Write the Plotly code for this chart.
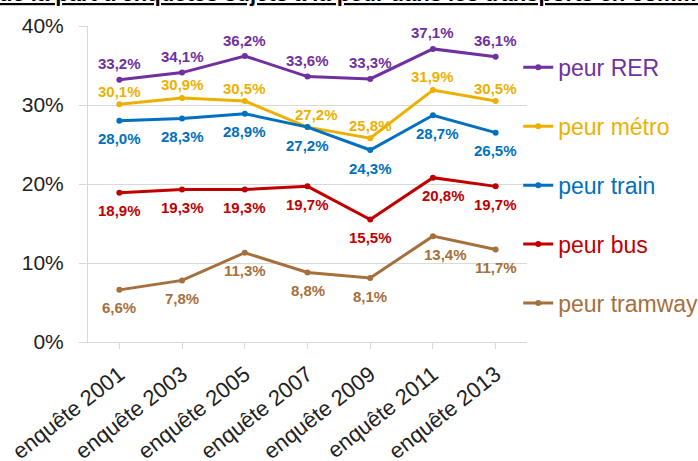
import plotly.graph_objects as go

categories = ["enquête 2001", "enquête 2003", "enquête 2005", "enquête 2007",
              "enquête 2009", "enquête 2011", "enquête 2013"]

rer = [33.2, 34.1, 36.2, 33.6, 33.3, 37.1, 36.1]
metro = [30.1, 30.9, 30.5, 27.2, 25.8, 31.9, 30.5]
train = [28.0, 28.3, 28.9, 27.2, 24.3, 28.7, 26.5]
bus = [18.9, 19.3, 19.3, 19.7, 15.5, 20.8, 19.7]
tram = [6.6, 7.8, 11.3, 8.8, 8.1, 13.4, 11.7]

# name, values, colour, label vertical shift (px)
series = [
    ("peur RER", rer, "#7030A0", 16),
    ("peur métro", metro, "#EEB000", 13),
    ("peur train", train, "#0070C0", -18),
    ("peur bus", bus, "#C00000", -18),
    ("peur tramway", tram, "#A5703C", -18),
]
# small horizontal nudges of a few data labels (series index, point index) -> px
label_nudge = {(1, 3): 9, (2, 5): 5, (3, 5): 11, (4, 5): 13}

FONT = "Arial, 'Liberation Sans', sans-serif"

fig = go.Figure()
for i, (name, vals, color, shift) in enumerate(series):
    fig.add_trace(go.Scatter(
        x=categories, y=vals,
        mode="lines+markers",
        name=f"<span style='color:{color}'>{name}</span>",
        legendgroup=str(i),
        line=dict(color=color, width=3),
        marker=dict(color=color, size=6),
        cliponaxis=False,
    ))
    for j, (c, v) in enumerate(zip(categories, vals)):
        fig.add_annotation(
            x=c, y=v, xref="x", yref="y", yshift=shift,
            xshift=label_nudge.get((i, j), 0),
            text=f"{v:.1f}%".replace(".", ","), showarrow=False,
            font=dict(family=FONT, size=15, color=color, weight="bold"),
        )

fig.add_annotation(
    text="<u>de la part d'enquêtés sujets à la peur dans les transports en commun</u>",
    xref="paper", yref="paper", x=-0.207, y=1.0575, xanchor="left", yanchor="bottom",
    showarrow=False, font=dict(family=FONT, size=22, color="#000000", weight="bold"),
)

fig.update_layout(
    width=698, height=461,
    margin=dict(l=88, r=171, t=26, b=119, autoexpand=False),
    paper_bgcolor="white", plot_bgcolor="white",
    font=dict(family=FONT, color="#222222"),
    showlegend=True,
    legend=dict(x=0.980, y=0.937, xanchor="left", yanchor="top",
                font=dict(family=FONT, size=23), tracegroupgap=26,
                bgcolor="rgba(0,0,0,0)"),
    xaxis=dict(
        type="category", range=[-0.5, 6.5], automargin=False,
        showgrid=False, showline=True, linecolor="#D9D9D9", linewidth=1,
        ticks="outside", ticklen=6, tickcolor="#D9D9D9",
        ticklabelstandoff=4,
        tickangle=-38, tickfont=dict(family=FONT, size=22, color="#222222"),
    ),
    yaxis=dict(
        range=[0, 40], tickvals=[0, 10, 20, 30, 40], automargin=False,
        ticktext=["0%", "10%", "20%", "30%", "40%"],
        showgrid=True, gridcolor="#D9D9D9", gridwidth=1,
        showline=True, linecolor="#D9D9D9", zeroline=False,
        ticks="outside", ticklen=8, tickcolor="#D9D9D9",
        ticklabelstandoff=11,
        tickfont=dict(family=FONT, size=21, color="#222222"),
    ),
)

fig.write_html("out.html")
